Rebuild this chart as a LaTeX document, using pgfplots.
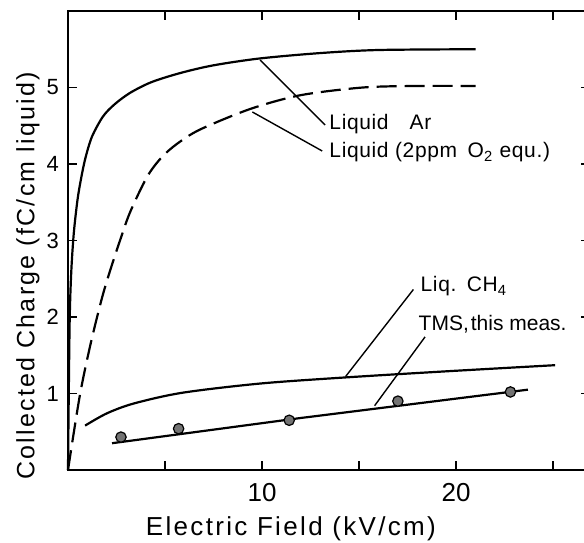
\documentclass[border=0pt]{standalone}
\usepackage{fontspec}
\setmainfont{Liberation Sans}
\newfontfamily\widefont[LetterSpace=9]{Liberation Sans}
\newfontfamily\notefont[LetterSpace=3]{Liberation Sans}
\usepackage{pgfplots}
\pgfplotsset{compat=1.18}
\begin{document}
\begin{tikzpicture}
\begin{axis}[
  scale only axis,
  width=261pt, height=229.5pt,
  xmin=0, xmax=26.9, ymin=0, ymax=6,
  axis line style={line width=0.9pt},
  xtick={5,10,15,20,25}, xticklabels={,10,,20,},
  ytick={1,2,3,4,5},
  tick align=inside,
  major tick length=4.5pt,
  every tick/.style={black, line width=0.9pt},
  /pgf/number format/assume math mode=true,
  xticklabel style={font=\fontsize{13}{13}\selectfont, yshift=-3pt},
  yticklabel style={font=\fontsize{11}{11}\selectfont, xshift=-1pt},
  xlabel={Electric Field (kV/cm)},
  ylabel={Collected Charge (fC/cm liquid)},
  x label style={font=\widefont\fontsize{13}{13}\selectfont, at={(axis description cs:0.427,0)}, anchor=north, yshift=-20pt},
  y label style={font=\widefont\fontsize{12.5}{12.5}\selectfont, at={(axis description cs:-0.077,0.423)}, anchor=center},
  clip=false,
]
% Liquid Ar
\addplot[black, line width=1.1pt, smooth, tension=0.5] coordinates {
  (0,0) (0.04,1.0) (0.09,2.0) (0.17,2.6) (0.3,3.1) (0.5,3.55) (0.72,3.87)
  (0.92,4.1) (1.24,4.36) (1.8,4.62) (2.4,4.78) (3.2,4.93) (4.3,5.07) (5.8,5.19)
  (7.5,5.29) (9.9,5.38) (13,5.45) (16,5.49) (21,5.5)};
% Liquid (2ppm O2 equ.)
\addplot[black, line width=1.1pt, smooth, tension=0.5, dash pattern=on 10pt off 4pt] coordinates {
  (0,0) (0.6,0.96) (1.13,1.61) (1.7,2.2) (2.1,2.55) (2.68,3.0) (3.2,3.37)
  (4.07,3.83) (4.8,4.08) (5.6,4.26) (6.8,4.45) (9.4,4.72) (12,4.9)
  (15.2,5.0) (18,5.02) (21,5.02)};
% Liq. CH4
\addplot[black, line width=1.1pt, smooth, tension=0.5] coordinates {
  (0.88,0.58) (2.0,0.74) (3.4,0.87) (5.9,1.01) (9.9,1.13)
  (14.3,1.21) (19.5,1.29) (25.1,1.37)};
% TMS, this measurement: fit line
\addplot[black, line width=1.1pt] coordinates {(2.27,0.35) (12,0.68) (23.7,1.05)};
% TMS measured points
\addplot[only marks, mark=*, mark size=2.6pt, mark options={fill=black!55, draw=black, line width=0.6pt}] coordinates {
  (2.73,0.43) (5.7,0.54) (11.4,0.65) (17.0,0.9) (22.8,1.02)};
% annotations
\draw[line width=0.7pt] (axis cs:9.9,5.36) -- (axis cs:13.25,4.51);
\draw[line width=0.7pt] (axis cs:9.5,4.68) -- (axis cs:13.1,4.17);
\draw[line width=0.7pt] (axis cs:14.3,1.22) -- (axis cs:17.8,2.36);
\draw[line width=0.7pt] (axis cs:15.8,0.84) -- (axis cs:18.4,1.74);
\node[anchor=west, font=\notefont\fontsize{10.5}{10.5}\selectfont, inner sep=1pt] at (axis cs:13.35,4.52) {Liquid\quad Ar};
\node[anchor=west, font=\notefont\fontsize{10.5}{10.5}\selectfont, inner sep=1pt] at (axis cs:13.35,4.15) {Liquid (2ppm\enspace O\textsubscript{2} equ.)};
\node[anchor=west, font=\notefont\fontsize{10.5}{10.5}\selectfont, inner sep=1pt] at (axis cs:18.05,2.4) {Liq.\enspace CH\textsubscript{4}};
\node[anchor=west, font=\fontsize{10.5}{10.5}\selectfont, inner sep=1pt] at (axis cs:17.95,1.9) {TMS,\hspace{1pt}this meas.};
\coordinate (bl) at (rel axis cs:0,0);
\coordinate (tr) at (rel axis cs:1,1);
\end{axis}
\pgfresetboundingbox
\path[use as bounding box] ([shift={(-34pt,-36.5pt)}]bl) rectangle ([shift={(-3pt,5.5pt)}]tr);
\end{tikzpicture}
\end{document}
